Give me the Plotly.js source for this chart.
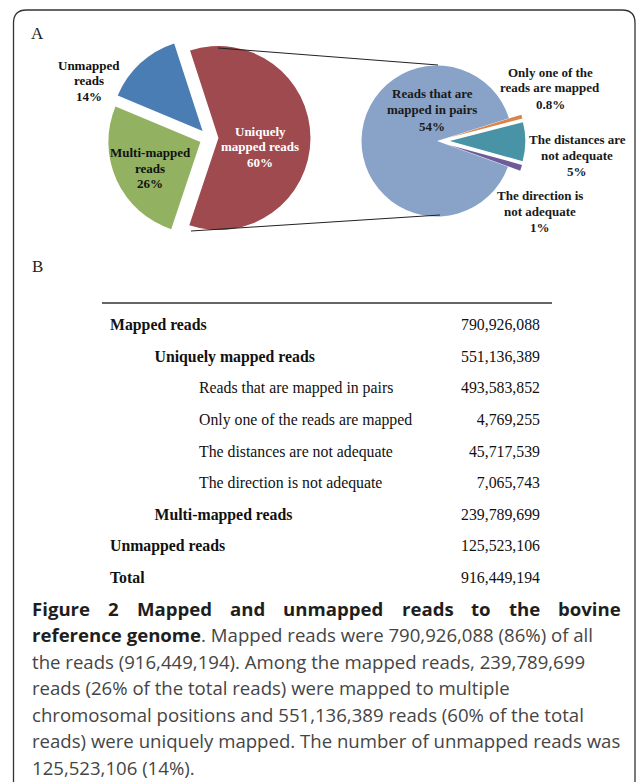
<!DOCTYPE html>
<html><head><meta charset="utf-8">
<script src="https://cdn.plot.ly/plotly-3.0.1.min.js"></script>
<style>html,body{margin:0;padding:0;background:#fff;} #chart{width:636px;height:782px;}</style>
</head><body><div id="chart"></div>
<script>
// ---------- DATA ----------
// Panel A, left pie: all reads
const overviewLabels = ["Uniquely mapped reads", "Multi-mapped reads", "Unmapped reads"];
const overviewDisplay = ["Uniquely<br>mapped reads", "Multi-mapped<br>reads", "Unmapped<br>reads"];
const overviewValues = [551136389, 239789699, 125523106];
// Panel A, right pie: breakdown of uniquely mapped reads
const uniqueLabels = ["Reads that are mapped in pairs", "Only one of the reads are mapped", "The distances are not adequate", "The direction is not adequate"];
const uniqueDisplay = ["Reads that are<br>mapped in pairs", "Only one of the<br>reads are mapped", "The distances are<br>not adequate", "The direction is<br>not adequate"];
const uniqueValues = [493583852, 4769255, 45717539, 7065743];
const uniquePctText = ["54%", "0.8%", "5%", "1%"];
// Panel B table
const tableLabels = ["Mapped reads", "Uniquely mapped reads", "Reads that are mapped in pairs", "Only one of the reads are mapped", "The distances are not adequate", "The direction is not adequate", "Multi-mapped reads", "Unmapped reads", "Total"];
const tableLevel = [0, 1, 2, 2, 2, 2, 1, 0, 0];
const tableValues = [790926088, 551136389, 493583852, 4769255, 45717539, 7065743, 239789699, 125523106, 916449194];
// Caption
const captionTitle = ["Figure", "2", "Mapped", "and", "unmapped", "reads", "to", "the", "bovine"];
const captionLines = [
  "<b>reference genome</b>. Mapped reads were 790,926,088 (86%) of all",
  "the reads (916,449,194). Among the mapped reads, 239,789,699",
  "reads (26% of the total reads) were mapped to multiple",
  "chromosomal positions and 551,136,389 reads (60% of the total",
  "reads) were uniquely mapped. The number of unmapped reads was",
  "125,523,106 (14%)."
];

// ---------- STYLE / LAYOUT ----------
const W = 636, H = 782;
const px = x => x / W;
const py = y => 1 - y / H;
const serif = "'Liberation Serif', 'Times New Roman', serif";
const sans = "'Open Sans', 'Noto Sans', sans-serif";
const capSize = 18.6;

const overviewColors = ["#9e4a4e", "#92b161", "#4a7db3"];
const uniqueColors = ["#89a3c8", "#d9844a", "#4893a6", "#6e5c9a"];

function pieDomain(cx, cy, r, pull) {
  const half = r * (1 + pull);
  return {x: [px(cx - half), px(cx + half)], y: [py(cy + half), py(cy - half)]};
}
const pull1 = 0.103, pull2 = 0.17;

const traces = [];
traces.push({
  type: 'pie', values: overviewValues, labels: overviewLabels, sort: false,
  direction: 'clockwise', rotation: -18,
  pull: overviewValues.map(() => pull1),
  marker: {colors: overviewColors, line: {width: 0}},
  textinfo: 'none', hoverinfo: 'none', showlegend: false,
  domain: pieDomain(209, 138, 92, pull1)
});
traces.push({
  type: 'pie', values: uniqueValues, labels: uniqueLabels, sort: false,
  direction: 'clockwise', rotation: 110,
  pull: uniqueValues.map((v, i) => i === 0 ? 0 : pull2),
  marker: {colors: uniqueColors, line: {width: 0}},
  textinfo: 'none', hoverinfo: 'none', showlegend: false,
  domain: pieDomain(437, 141, 75.5, pull2)
});

// table as text through cartesian axes
const boldRow = tableLevel.map(l => l < 2);
const rowIdx = tableLabels.map((_, i) => i);
const levelPx = 44.5, level0 = 110, rowPx = 31.6, row0 = 326.2;
traces.push({
  type: 'scatter', mode: 'text', x: tableLevel, y: rowIdx,
  text: tableLabels.map((t, i) => boldRow[i] ? '<b>' + t + '</b>' : t),
  textposition: 'middle right', textfont: {family: serif, size: 15.8, color: '#111'},
  hoverinfo: 'none', showlegend: false, cliponaxis: false
});
const valueCol = (540 - level0) / levelPx;
traces.push({
  type: 'scatter', mode: 'text', x: tableValues.map(() => valueCol), y: rowIdx,
  text: tableValues.map(v => v.toLocaleString('en-US')),
  textposition: 'middle left', textfont: {family: serif, size: 15.8, color: '#111'},
  hoverinfo: 'none', showlegend: false, cliponaxis: false
});

const annotations = [];
function addLabel(lines, cx, cy, gap, color) {
  lines.forEach((t, i) => {
    annotations.push({
      xref: 'paper', yref: 'paper', x: px(cx), y: py(cy + (i - (lines.length - 1) / 2) * gap),
      xanchor: 'center', yanchor: 'middle', showarrow: false,
      text: '<b>' + t + '</b>', font: {family: serif, size: 13, color: color}
    });
  });
}
const total1 = overviewValues.reduce((a, b) => a + b, 0);
const pie1Pos = [[260, 147], [150, 168], [89, 81]];
const pie1Col = ['#ffffff', '#111111', '#111111'];
overviewDisplay.forEach((d, i) => {
  const pct = Math.round(overviewValues[i] / total1 * 100) + '%';
  addLabel(d.split('<br>').concat([pct]), pie1Pos[i][0], pie1Pos[i][1], 15.5, pie1Col[i]);
});
const pie2Pos = [[432, 110], [550, 88], [577, 155.5], [540, 211.5]];
uniqueDisplay.forEach((d, i) => {
  addLabel(d.split('<br>').concat([uniquePctText[i]]), pie2Pos[i][0], pie2Pos[i][1], 16, '#1a1a1a');
});

// panel letters
[['A', 33], ['B', 267]].forEach(([t, y]) => annotations.push({
  xref: 'paper', yref: 'paper', x: px(37), y: py(y), xanchor: 'center', yanchor: 'middle',
  showarrow: false, text: t, font: {family: serif, size: 17, color: '#222'}
}));

// caption: justified title line
const ctx = document.createElement('canvas').getContext('2d');
ctx.font = "bold " + capSize + "px 'Open Sans'";
const widths = captionTitle.map(w => ctx.measureText(w).width);
const left = 31, right = 620;
const gapW = (right - left - widths.reduce((a, b) => a + b, 0)) / (captionTitle.length - 1);
let cursor = left;
captionTitle.forEach((w, i) => {
  annotations.push({
    xref: 'paper', yref: 'paper', x: px(cursor - 1), y: py(608), xanchor: 'left', yanchor: 'middle',
    showarrow: false, text: '<b>' + w + '</b>', font: {family: sans, size: capSize, color: '#1e1e1e'}
  });
  cursor += widths[i] + gapW;
});
captionLines.forEach((t, i) => {
  annotations.push({
    xref: 'paper', yref: 'paper', x: px(left - 1), y: py(634.5 + i * 26.5), xanchor: 'left', yanchor: 'middle',
    showarrow: false,
    text: t.replace('<b>', '<b><span style="color:#1e1e1e">').replace('</b>', '</span></b>'),
    font: {family: sans, size: capSize, color: '#454545'}
  });
});

// shapes: border, connectors, table rule
const border = `M ${px(13.5)} ${py(782)} L ${px(13.5)} ${py(23)} Q ${px(13.5)} ${py(10)} ${px(26.5)} ${py(10)} L ${px(622)} ${py(10)} Q ${px(635)} ${py(10)} ${px(635)} ${py(23)} L ${px(635)} ${py(782)}`;
const shapes = [
  {type: 'path', xref: 'paper', yref: 'paper', path: border, line: {color: '#333', width: 1.3}},
  {type: 'line', xref: 'paper', yref: 'paper', x0: px(218), y0: py(48), x1: px(438), y1: py(65), line: {color: '#222', width: 1}},
  {type: 'line', xref: 'paper', yref: 'paper', x0: px(191), y0: py(231), x1: px(440), y1: py(215), line: {color: '#222', width: 1}},
  {type: 'line', xref: 'paper', yref: 'paper', x0: px(102), y0: py(303), x1: px(552), y1: py(303), line: {color: '#333', width: 1.5}}
];

const layout = {
  width: W, height: H, margin: {l: 0, r: 0, t: 0, b: 0}, paper_bgcolor: '#fff', plot_bgcolor: 'rgba(0,0,0,0)',
  showlegend: false,
  xaxis: {domain: [0, 1], range: [-level0 / levelPx, (W - level0) / levelPx], visible: false, fixedrange: true},
  yaxis: {domain: [0, 1], range: [(H - row0) / rowPx, -row0 / rowPx], visible: false, fixedrange: true},
  annotations: annotations, shapes: shapes
};
Plotly.newPlot('chart', traces, layout, {staticPlot: true, displayModeBar: false});
</script></body></html>
